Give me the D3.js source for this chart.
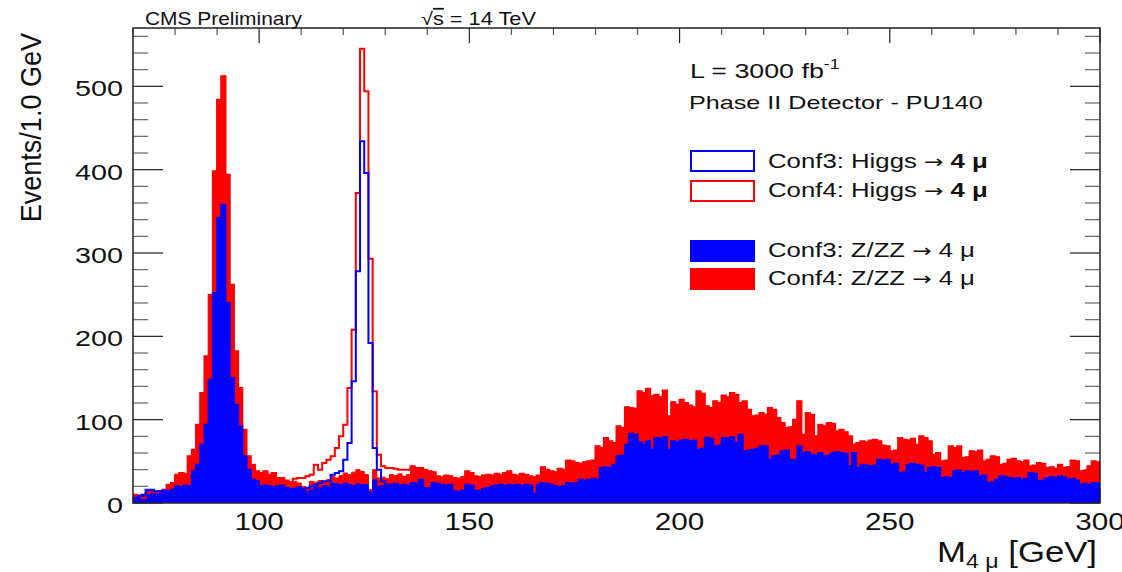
<!DOCTYPE html>
<html>
<head>
<meta charset="utf-8">
<script src="https://cdn.jsdelivr.net/npm/d3@7"></script>
<style>
  body { margin: 0; background: #fff; }
  svg { display: block; font-family: "Liberation Sans", Arial, Helvetica, sans-serif; }
</style>
</head>
<body>
<svg id="chart" width="1122" height="572"></svg>
<script>
// histogram range, 1 GeV bins
var binLow = 70, binHigh = 300;

// Conf4: Z/ZZ -> 4mu, bins 70..299
var zzConf4 = [
  10, 9, 6, 12, 14, 13, 14, 16, 22, 24,
  34, 36, 35, 56, 64, 94, 132, 176, 250, 398,
  484, 512, 394, 262, 182, 138, 88, 56, 46, 38,
  36, 38, 34, 36, 30, 30, 27, 25, 26, 24,
  20, 19, 26, 25, 27, 26, 28, 32, 30, 33,
  36, 34, 37, 40, 38, 34, 16, 40, 30, 31,
  29, 34, 33, 35, 32, 34, 44, 42, 42, 40,
  38, 37, 32, 31, 33, 32, 30, 29, 31, 38,
  36, 32, 31, 33, 34, 33, 35, 34, 36, 38,
  34, 33, 35, 34, 32, 31, 33, 43, 40, 38,
  37, 41, 40, 51, 50, 48, 47, 49, 50, 51,
  68, 66, 78, 74, 72, 92, 90, 115, 114, 113,
  134, 132, 137, 128, 130, 127, 135, 104, 121, 118,
  124, 120, 117, 115, 134, 131, 116, 114, 122, 120,
  129, 127, 132, 130, 120, 122, 112, 104, 105, 108,
  106, 114, 112, 102, 96, 90, 91, 100, 122, 82,
  108, 106, 80, 94, 92, 96, 95, 86, 88, 85,
  80, 70, 72, 74, 73, 75, 76, 74, 69, 68,
  62, 63, 78, 76, 75, 77, 70, 80, 78, 74,
  58, 60, 50, 51, 68, 66, 68, 54, 55, 62,
  61, 63, 50, 52, 56, 55, 46, 47, 52, 53,
  50, 49, 51, 44, 45, 48, 47, 42, 43, 41,
  46, 42, 43, 51, 50, 38, 39, 44, 50, 49
];

// Conf3: Z/ZZ -> 4mu, bins 70..299
var zzConf3 = [
  6, 8, 10, 16, 16, 14, 14, 15, 14, 16,
  20, 19, 21, 20, 38, 46, 70, 94, 148, 252,
  342, 358, 240, 150, 118, 92, 56, 40, 28, 26,
  20, 21, 20, 19, 20, 21, 18, 17, 16, 17,
  15, 14, 16, 20, 18, 21, 20, 24, 23, 22,
  24, 22, 21, 23, 22, 22, 13, 28, 20, 21,
  20, 22, 23, 21, 22, 20, 24, 23, 28, 18,
  18, 24, 23, 22, 21, 22, 14, 13, 15, 22,
  21, 15, 14, 17, 18, 20, 21, 22, 20, 22,
  21, 22, 20, 22, 21, 11, 22, 24, 23, 22,
  20, 19, 20, 24, 23, 24, 28, 27, 28, 29,
  28, 42, 43, 42, 46, 56, 57, 70, 83, 82,
  73, 70, 74, 64, 78, 77, 79, 64, 74, 73,
  75, 76, 74, 75, 64, 65, 78, 77, 68, 69,
  78, 77, 79, 72, 82, 62, 63, 64, 65, 68,
  68, 52, 56, 57, 62, 63, 52, 52, 68, 60,
  61, 58, 57, 60, 56, 57, 60, 61, 60, 59,
  44, 60, 42, 46, 45, 44, 45, 52, 51, 52,
  46, 47, 36, 37, 46, 47, 46, 45, 36, 42,
  43, 42, 30, 31, 30, 38, 39, 36, 38, 37,
  38, 32, 33, 24, 25, 28, 32, 31, 30, 29,
  30, 28, 29, 36, 35, 26, 27, 30, 31, 30,
  32, 31, 28, 29, 27, 22, 23, 22, 24, 24
];

// Higgs -> 4mu signal, stacked on top of Z/ZZ, bins from higgsStart
var higgsStart = 108;
var higgsConf4 = [3, 6, 10, 13, 8, 21, 13, 22, 24, 24, 36, 47, 58, 104, 171, 332, 507, 460, 277, 94, 28, 13, 13, 8, 8, 5, 8, 6, 0];
var higgsConf3 = [1, 2, 2, 4, 4, 2, 6, 5, 6, 10, 13, 16, 28, 50, 125, 255, 412, 374, 179, 38, 20, 5, 2, 0];

var xTickValues = [100, 150, 200, 250, 300];
var yTickValues = [0, 100, 200, 300, 400, 500];
var legendLabels = ["Conf3: Higgs ", "Conf4: Higgs ", "Conf3: Z/ZZ ", "Conf4: Z/ZZ "];

var svg = d3.select("#chart"),
    margin = {top: 28, right: 22, bottom: 69, left: 133},
    width = 1122 - margin.left - margin.right,
    height = 572 - margin.top - margin.bottom;

var x = d3.scaleLinear().domain([binLow, binHigh]).range([margin.left, margin.left + width]);
var y = d3.scaleLinear().domain([0, 570]).range([margin.top + height, margin.top]);

var red = "#ff0000", blue = "#0000ff";

// text helper: build text then stretch it horizontally to a target width
function putText(parent, px, py, anchor, size, targetWidth, build, rotate) {
  var g = parent.append("g").attr("transform", "translate(" + px + "," + py + ")" + (rotate ? " rotate(" + rotate + ")" : ""));
  var t = g.append("text").attr("text-anchor", anchor).attr("font-size", size).attr("fill", "#111");
  build(t);
  if (targetWidth) {
    var bw = t.node().getBBox().width;
    t.attr("transform", "scale(" + (targetWidth / bw) + ",1)");
  }
  return t;
}

// ticks (drawn first, the histograms cover them like in the original)
var ticks = svg.append("g");
var xMinor = d3.range(binLow, binHigh + 1, 10);
var yMinor = d3.range(0, 561, 20);
xMinor.forEach(function(v) {
  var major = v % 50 === 0;
  var len = major ? 15 : 7;
  ticks.append("line").attr("x1", x(v)).attr("x2", x(v)).attr("y1", y.range()[1]).attr("y2", y.range()[1] + len)
    .attr("stroke", major ? "#222" : "#555").attr("stroke-width", 1.2);
  ticks.append("line").attr("x1", x(v)).attr("x2", x(v)).attr("y1", y.range()[0]).attr("y2", y.range()[0] - len)
    .attr("stroke", major ? "#222" : "#555").attr("stroke-width", 1.2);
});
yMinor.forEach(function(v) {
  var major = v % 100 === 0;
  var len = major ? 30 : 15;
  ticks.append("line").attr("x1", x.range()[0]).attr("x2", x.range()[0] + len).attr("y1", y(v)).attr("y2", y(v))
    .attr("stroke", major ? "#222" : "#666").attr("stroke-width", 1.2);
  ticks.append("line").attr("x1", x.range()[1]).attr("x2", x.range()[1] - len).attr("y1", y(v)).attr("y2", y(v))
    .attr("stroke", major ? "#222" : "#666").attr("stroke-width", 1.2);
});

// clip to frame
svg.append("defs").append("clipPath").attr("id", "clip")
  .append("rect").attr("x", margin.left).attr("y", margin.top).attr("width", width).attr("height", height);

function stepPoints(values) {
  var pts = values.map(function(v, i) { return {e: binLow + i, v: v}; });
  pts.push({e: binHigh, v: values[values.length - 1]});
  return pts;
}

var area = d3.area()
    .curve(d3.curveStepAfter)
    .x(function(d) { return x(d.e); })
    .y0(y(0))
    .y1(function(d) { return y(d.v); });

var line = d3.line()
    .curve(d3.curveStepAfter)
    .x(function(d) { return x(d.e); })
    .y(function(d) { return y(d.v); });

function stacked(base, sig) {
  return base.map(function(v, i) {
    var j = binLow + i - higgsStart;
    return v + (j >= 0 && j < sig.length ? sig[j] : 0);
  });
}

var plot = svg.append("g").attr("clip-path", "url(#clip)");

plot.append("path").datum(stepPoints(zzConf4))
  .attr("d", area).attr("fill", red).attr("stroke", red).attr("stroke-width", 1);
plot.append("path").datum(stepPoints(zzConf3))
  .attr("d", area).attr("fill", blue).attr("stroke", blue).attr("stroke-width", 1);

plot.append("path").datum(stepPoints(stacked(zzConf4, higgsConf4)))
  .attr("d", line).attr("fill", "none").attr("stroke", red).attr("stroke-width", 2);
plot.append("path").datum(stepPoints(stacked(zzConf3, higgsConf3)))
  .attr("d", line).attr("fill", "none").attr("stroke", blue).attr("stroke-width", 2);

// frame
svg.append("rect")
  .attr("x", margin.left).attr("y", margin.top).attr("width", width).attr("height", height)
  .attr("fill", "none").attr("stroke", "#222").attr("stroke-width", 1.5);

// tick labels
yTickValues.forEach(function(v) {
  putText(svg, x.range()[0] - 10, y(v) + 10, "end", 22, String(v).length * 16, function(t) { t.text(v); });
});
xTickValues.forEach(function(v) {
  putText(svg, x(v), 530, "middle", 23, String(v).length * 16.5, function(t) { t.text(v); });
});

// axis titles
putText(svg, 41, 33, "end", 29, 190, function(t) { t.text("Events/1.0 GeV"); }, -90);
putText(svg, 1097, 562, "end", 30, 160, function(t) {
  t.append("tspan").text("M");
  t.append("tspan").attr("font-size", 20).attr("dy", 6).text("4 \u03bc");
  t.append("tspan").attr("dy", -6).text(" [GeV]");
});

// header
putText(svg, 145, 25, "start", 18, 157, function(t) { t.text("CMS Preliminary"); });
putText(svg, 421, 25, "start", 18, 115, function(t) {
  t.append("tspan").text("\u221a");
  t.append("tspan").style("text-decoration", "overline").text("s");
  t.append("tspan").text(" = 14 TeV");
});

// annotations
putText(svg, 690, 78, "start", 21, 150, function(t) {
  t.append("tspan").text("L = 3000 fb");
  t.append("tspan").attr("font-size", 14).attr("dy", -9).text("-1");
});
putText(svg, 689, 109, "start", 18, 294, function(t) { t.text("Phase II Detector - PU140"); });

// legend
var legendRows = [
  {y: 150, text: 167.5, w: 220, fill: false, color: blue, bold: true},
  {y: 180, text: 196.5, w: 220, fill: false, color: red, bold: true},
  {y: 240, text: 256.5, w: 207, fill: true, color: blue, bold: false},
  {y: 268, text: 285, w: 207, fill: true, color: red, bold: false}
];
legendRows.forEach(function(r, i) {
  svg.append("rect").attr("x", 691).attr("y", r.y + 1).attr("width", 63).attr("height", 20)
    .attr("fill", r.fill ? r.color : "none").attr("stroke", r.color).attr("stroke-width", 2);
  putText(svg, 768, r.text, "start", 20, r.w, function(t) {
    t.append("tspan").text(legendLabels[i]);
    t.append("tspan").attr("font-family", "DejaVu Sans").attr("font-size", 18).text("\u2192");
    t.append("tspan").attr("font-weight", r.bold ? "bold" : "normal").text(" 4 \u03bc");
  });
});
</script>
</body>
</html>
